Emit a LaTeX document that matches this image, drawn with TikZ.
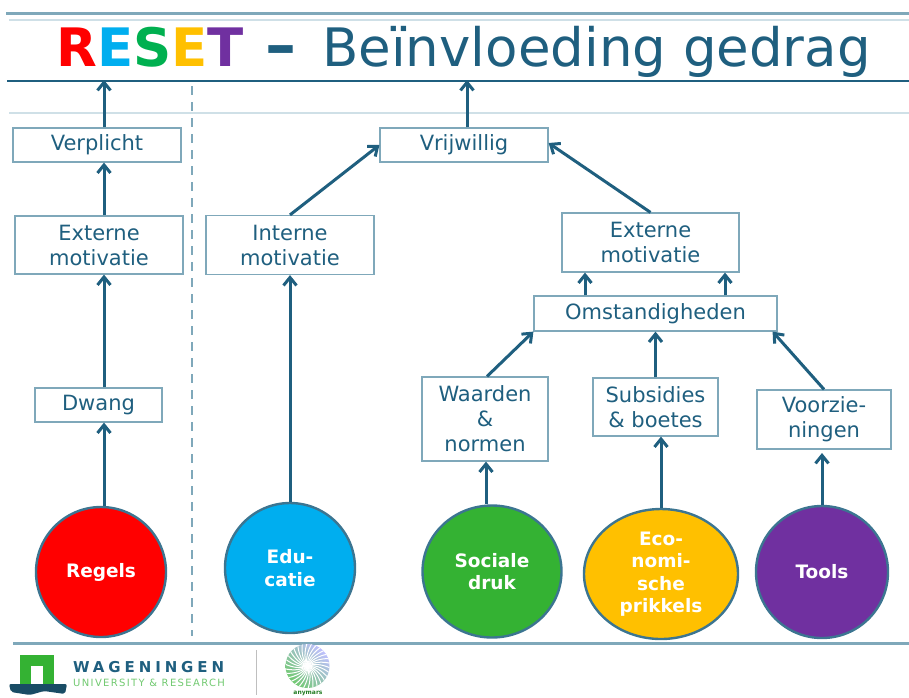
\documentclass[tikz,border=0pt]{standalone}
\usepackage{fontspec}
\setmainfont{DejaVu Sans}
\usepackage{xcolor}
\usetikzlibrary{
    shapes.geometric,
    calc,
    arrows.meta
}
\definecolor{wurblue}{HTML}{1F5F7F}
\definecolor{wurline}{HTML}{7FA8BA}
\definecolor{wurpale}{HTML}{CFE0E7}
\definecolor{wurgreen}{HTML}{34B233}
\definecolor{resetred}{HTML}{FF0000}
\definecolor{resetcyan}{HTML}{00AEEF}
\definecolor{resetgreen}{HTML}{00B050}
\definecolor{resetyellow}{HTML}{FFC000}
\definecolor{resetpurple}{HTML}{7030A0}
\tikzset{
  box/.style = {
      draw=wurline,
      line width=1.2pt,
      fill=white,
      rectangle,
      inner sep=0pt,
      align=center,
      text=wurblue,
      font=\fontsize{21}{25}\selectfont
  },
  link/.style = {
      draw=wurblue,
      line width=3pt,
      -{Straight Barb[length=8pt,width=13pt,line width=3pt]}
  },
  bubble/.style = {
      draw=wurblue!70!wurline,
      line width=2.4pt,
      inner sep=0pt,
      align=center,
      text=white,
      font=\fontsize{18.5}{22.5}\selectfont\bfseries
  },
  rule/.style = {
      wurline,
      line width=3pt
  },
  title/.style = {
      inner sep=0pt,
      anchor=base west
  }
}
\begin{document}
\begin{tikzpicture}[x=1pt,y=-1pt]
    \useasboundingbox (0,0) rectangle (909,697);
    % Header and footer rules
    \draw[rule] (6,13) -- (909,13);
    \draw[wurpale, line width=1.5pt] (9,20) -- (909,20);
    \draw[wurblue, line width=1.5pt] (7,81) -- (909,81);
    \draw[wurpale, line width=1.5pt] (9,113) -- (909,113);
    \draw[rule] (13,643) -- (909,643);
    \draw[wurline, line width=2.4pt, dash pattern=on 9pt off 7pt] (192,86) -- (192,636);
    % Title
    \node[title, font=\fontsize{53}{60}\selectfont\bfseries] (reset) at (56,66) {\textcolor{resetred}{R}\textcolor{resetcyan}{E}\textcolor{resetgreen}{S}\textcolor{resetyellow}{E}\textcolor{resetpurple}{T}};
    \node[title, text=wurblue, font=\fontsize{62}{60}\selectfont\bfseries] (dash) at (265,66) {–};
    \node[title, text=wurblue, font=\fontsize{53}{60}\selectfont] (heading) at (322,66) {Beïnvloeding gedrag};
    % Boxes
    \node[box, minimum width=168pt, minimum height=34pt] (verplicht) at (97,145) {Verplicht};
    \node[box, minimum width=168pt, minimum height=58pt] (extl) at (99,245) {Externe\\motivatie};
    \node[box, minimum width=127pt, minimum height=34pt] (dwang) at (98.5,405) {Dwang};
    \node[box, minimum width=168pt, minimum height=59pt] (intern) at (290,245) {Interne\\motivatie};
    \node[box, minimum width=168pt, minimum height=34pt] (vrijwillig) at (464,145) {Vrijwillig};
    \node[box, minimum width=177pt, minimum height=59pt] (extr) at (650.5,242.5) {Externe\\motivatie};
    \node[box, minimum width=243pt, minimum height=35pt] (omst) at (655.5,313.5) {Omstandigheden};
    \node[box, minimum width=126pt, minimum height=84pt] (waarden) at (485,419) {Waarden\\\&\\normen};
    \node[box, minimum width=125pt, minimum height=58pt] (subsidies) at (655.5,407) {Subsidies\\\& boetes};
    \node[box, minimum width=134pt, minimum height=59pt] (voorz) at (824,419.5) {Voorzie-\\ningen};
    % Circles
    \node[bubble, circle, fill=resetred, minimum size=130pt] (regels) at (101,572) {Regels};
    \node[bubble, circle, fill=resetcyan, minimum size=130pt] (edu) at (290,568) {Edu-\\catie};
    \node[bubble, ellipse, fill=wurgreen, minimum width=139pt, minimum height=132pt] (sociale) at (492,571.5) {Sociale\\druk};
    \node[bubble, ellipse, fill=resetyellow, minimum width=154pt, minimum height=130pt] (eco) at (661,574) {Eco-\\nomi-\\sche\\prikkels};
    \node[bubble, circle, fill=resetpurple, minimum size=132pt] (tools) at (822,572) {Tools};
    % Edges
    \coordinate (topl) at (104,80);
    \coordinate (topr) at (467,80);
    \coordinate (gap) at (822,453);
    \draw[link] ([xshift=5.5pt]dwang.south |- regels.north) -- ([xshift=5.5pt]dwang.south);
    \draw[link] ([xshift=5.5pt]dwang.north) -- ([xshift=5.5pt]dwang.north |- extl.south);
    \draw[link] ([xshift=5pt]extl.north) -- ([xshift=5pt]extl.north |- verplicht.south);
    \draw[link] (topl |- verplicht.north) -- (topl);
    \draw[link] (edu.north) -- (edu.north |- intern.south);
    \draw[link] (intern.north) -- (vrijwillig.west);
    \draw[link] (extr.north) -- ([yshift=2pt]vrijwillig.east);
    \draw[link] (topr |- vrijwillig.north) -- (topr);
    \draw[link] ([xshift=-65.5pt]extr.south |- omst.north) -- ([xshift=-65.5pt]extr.south);
    \draw[link] ([xshift=74.5pt]extr.south |- omst.north) -- ([xshift=74.5pt]extr.south);
    \draw[link] ([xshift=2pt]waarden.north) -- (omst.south west);
    \draw[link] (subsidies.north) -- (omst.south);
    \draw[link] (voorz.north) -- ([xshift=-5pt]omst.south east);
    \draw[link] ([xshift=1pt]waarden.south |- sociale.north) -- ([xshift=1pt]waarden.south);
    \draw[link] (eco.north) -- (eco.north |- subsidies.south);
    \draw[link] (tools.north) -- (gap);
    % Footer logo
    \fill[wurgreen] (20,655) rectangle (54,685);
    \fill[white] (31,666) rectangle (43,685);
    \fill[wurblue!80!black, rounded corners=2pt] (9,684) -- (67,684) -- (65,694) -- (44,691) -- (30,695) -- (11,692) -- cycle;
    \node[inner sep=0pt, text=wurblue, anchor=base west, font=\fontsize{15}{15}\selectfont\bfseries\addfontfeature{LetterSpace=26}] (wur) at (73,672) {WAGENINGEN};
    \node[inner sep=0pt, text=wurgreen!70!white, anchor=base west, font=\fontsize{10}{10}\selectfont\addfontfeature{LetterSpace=13.6}] (uni) at (73,686) {UNIVERSITY \& RESEARCH};
    \draw[gray!50, line width=1pt] (256,650) -- (256,695);
    \begin{scope}
        \clip (307.5,666) circle (22);
        \shade[top color=blue!25!white, bottom color=wurgreen!70!white, shading angle=-45] (285,644) rectangle (330,688);
        \foreach \a in {0,12,...,348} {
            \draw[white, line width=1pt] (307.5,666) .. controls +(\a:10) and +(\a+50:-4) .. ++(\a+30:24);
        }
    \end{scope}
    \node[inner sep=0pt, text=wurgreen!70!black, font=\fontsize{6}{6}\selectfont\bfseries] (mark) at (308,693) {anymars};
\end{tikzpicture}
\end{document}
